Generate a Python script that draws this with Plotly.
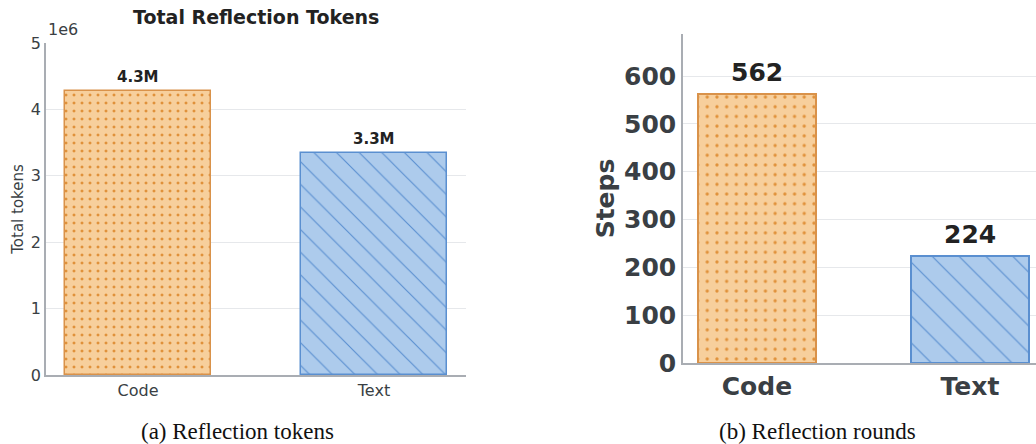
import plotly.graph_objects as go

categories = ["Code", "Text"]
tokens = [4.28e6, 3.34e6]
steps = [562, 224]
token_ticks = [0, 1, 2, 3, 4, 5]
step_ticks = [0, 100, 200, 300, 400, 500, 600]

# body margin is removed by post_script, so the figure fills the 1036x444 window
W, H = 1036, 444
FILL = ["#f7cf9c", "#adcbec"]
EDGE = ["#d9924a", "#5a8fd0"]
FG = ["#e0913a", "#5a8fd0"]
SHAPES = [".", "\\"]
SANS = "DejaVu Sans"

def px_x(p):
    return p / W

def px_y(p):
    return 1 - p / H

fig = go.Figure()

left_pat = [dict(size=8, solidity=0.11), dict(size=16, solidity=0.07)]
right_pat = [dict(size=9.7, solidity=0.09), dict(size=19, solidity=0.06)]

# Left panel bars
for i, c in enumerate(categories):
    fig.add_trace(go.Bar(
        x=[c], y=[tokens[i]], xaxis="x", yaxis="y", width=0.62,
        marker=dict(color=FILL[i], line=dict(color=EDGE[i], width=1.5),
                    pattern=dict(shape=SHAPES[i], fgcolor=FG[i], bgcolor=FILL[i],
                                 fillmode="replace", **left_pat[i])),
        showlegend=False, hoverinfo="skip"))

# Right panel bars
for i, c in enumerate(categories):
    fig.add_trace(go.Bar(
        x=[c], y=[steps[i]], xaxis="x2", yaxis="y2", width=0.55,
        marker=dict(color=FILL[i], line=dict(color=EDGE[i], width=2),
                    pattern=dict(shape=SHAPES[i], fgcolor=FG[i], bgcolor=FILL[i],
                                 fillmode="replace", **right_pat[i])),
        showlegend=False, hoverinfo="skip"))

annotations = []
for i, c in enumerate(categories):
    annotations.append(dict(x=c, y=tokens[i], xref="x", yref="y", yanchor="bottom", xanchor="center",
                            text=f"{tokens[i]/1e6:.1f}M", showarrow=False, yshift=3,
                            font=dict(family=SANS, size=15, color="#222222", weight="bold")))
    annotations.append(dict(x=c, y=steps[i], xref="x2", yref="y2", yanchor="bottom", xanchor="center",
                            text=f"{steps[i]}", showarrow=False, yshift=5,
                            font=dict(family=SANS, size=25, color="#222222", weight="bold")))

annotations += [
    dict(x=px_x(256), y=px_y(17), xref="paper", yref="paper", text="Total Reflection Tokens",
         xanchor="center", yanchor="middle",
         showarrow=False, font=dict(family=SANS, size=19, color="#222222", weight="bold")),
    dict(x=px_x(46), y=px_y(30), xref="paper", yref="paper", text="1e6", xanchor="left",
         yanchor="middle",
         showarrow=False, font=dict(family=SANS, size=16, color="#3a3f44")),
    dict(x=px_x(237), y=px_y(431), xref="paper", yref="paper", text="(a) Reflection tokens",
         xanchor="center", yanchor="middle",
         showarrow=False, font=dict(family="Liberation Serif", size=23, color="#111111")),
    dict(x=px_x(817), y=px_y(431), xref="paper", yref="paper", text="(b) Reflection rounds",
         xanchor="center", yanchor="middle",
         showarrow=False, font=dict(family="Liberation Serif", size=23, color="#111111")),
]

fig.update_layout(
    width=W, height=H, margin=dict(l=0, r=0, t=0, b=0, autoexpand=False),
    paper_bgcolor="white", plot_bgcolor="white", bargap=0,
    annotations=annotations,
    xaxis=dict(domain=[px_x(46), px_x(466)], range=[-0.39, 1.39], type="category",
               showline=True, linecolor="#a9adb3", linewidth=1.5, showgrid=False, automargin=False,
               ticks="", tickfont=dict(family=SANS, size=16, color="#3a3f44"), anchor="y"),
    yaxis=dict(domain=[px_y(375), px_y(43)], range=[0, 5e6], automargin=False,
               tickvals=[t * 1e6 for t in token_ticks], ticktext=[str(t) for t in token_ticks],
               showline=True, linecolor="#a9adb3", linewidth=1.5, showgrid=True,
               gridcolor="#e6e8eb", gridwidth=1, zeroline=False, ticks="",
               tickfont=dict(family=SANS, size=16, color="#3a3f44"),
               title=dict(text="Total tokens", font=dict(family=SANS, size=15, color="#3a3f44"), standoff=4),
               anchor="x"),
    xaxis2=dict(domain=[px_x(683), 1.0], range=[-0.347, 1.31], type="category", automargin=False,
                showline=True, linecolor="#a9adb3", linewidth=1.5, showgrid=False, ticks="",
                tickfont=dict(family=SANS, size=25, color="#3a3f44", weight="bold"), anchor="y2"),
    yaxis2=dict(domain=[px_y(363), px_y(34)], range=[0, 688], tickvals=step_ticks, automargin=False,
                showline=True, linecolor="#a9adb3", linewidth=1.5, showgrid=True,
                gridcolor="#e6e8eb", gridwidth=1, zeroline=False, ticks="",
                tickfont=dict(family=SANS, size=25, color="#3a3f44", weight="bold"),
                title=dict(text="Steps", font=dict(family=SANS, size=25, color="#3a3f44", weight="bold"), standoff=2),
                anchor="x2"),
)

fig.write_html("out.html", config={"displayModeBar": False},
               post_script="document.body.style.margin='0';document.body.style.overflow='hidden';")
